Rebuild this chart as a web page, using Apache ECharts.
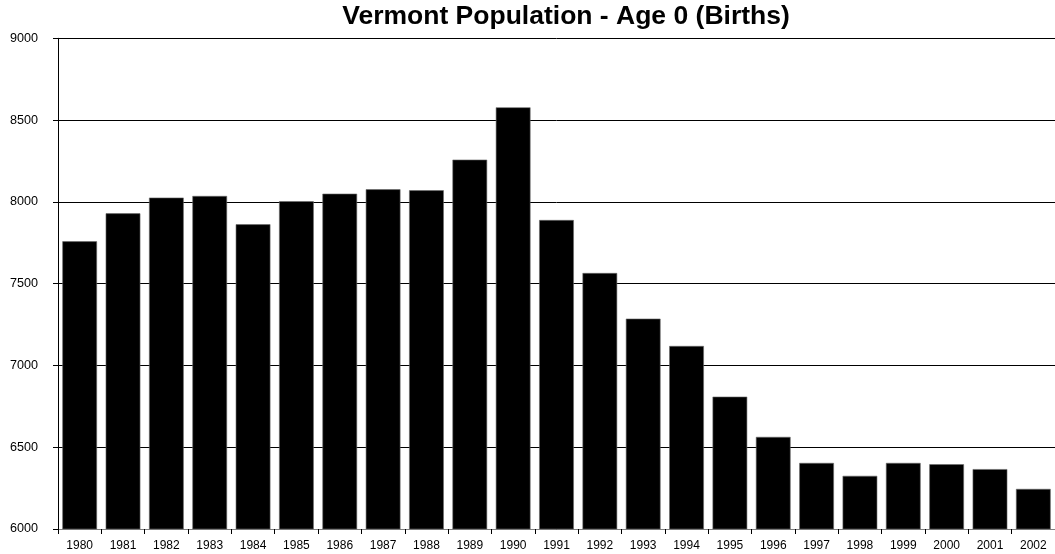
<!DOCTYPE html>
<html>
<head>
<meta charset="utf-8">
<title>Vermont Population - Age 0 (Births)</title>
<script src="https://cdn.jsdelivr.net/npm/echarts@6/dist/echarts.min.js"></script>
<style>
  html, body { margin: 0; padding: 0; background: #fff; }
  #chart { width: 1055px; height: 554px; }
</style>
</head>
<body>
<div id="chart"></div>
<script>
// Births (population at age 0) per year
const years = ['1980', '1981', '1982', '1983', '1984', '1985', '1986', '1987', '1988', '1989', '1990', '1991',
               '1992', '1993', '1994', '1995', '1996', '1997', '1998', '1999', '2000', '2001', '2002'];
const births = [7759, 7930, 8026, 8036, 7863, 8004, 8050, 8077, 8071, 8258, 8578, 7889,
                7565, 7286, 7119, 6809, 6563, 6404, 6325, 6404, 6396, 6366, 6245];
const yMin = 6000;
const yMax = 9000;
const yStep = 500;

const chart = echarts.init(document.getElementById('chart'));
chart.setOption({
  animation: false,
  backgroundColor: '#ffffff',
  title: {
    text: 'Vermont Population - Age 0 (Births)',
    left: 566,
    textAlign: 'center',
    top: 3,
    padding: 0,
    textStyle: {
      fontFamily: 'Liberation Sans, Arial, sans-serif',
      fontWeight: 'bold',
      fontSize: 26.5,
      color: '#000'
    }
  },
  grid: {
    left: 58,
    right: 0,
    top: 38.3,
    bottom: 25,
    containLabel: false
  },
  xAxis: {
    type: 'category',
    data: years,
    boundaryGap: true,
    axisLine: { show: true, lineStyle: { color: '#808080', width: 1 } },
    axisTick: { show: true, inside: false, length: 5, alignWithLabel: false, lineStyle: { color: '#000' } },
    axisLabel: {
      interval: 0,
      margin: 11,
      fontFamily: 'Liberation Sans, Arial, sans-serif',
      fontSize: 12,
      color: '#000'
    },
    splitLine: { show: false }
  },
  yAxis: {
    type: 'value',
    min: yMin,
    max: yMax,
    interval: yStep,
    axisLine: { show: true, lineStyle: { color: '#000', width: 1 } },
    axisTick: { show: true, inside: false, length: 5, lineStyle: { color: '#000' } },
    axisLabel: {
      margin: 20,
      formatter: (v) => String(v),
      fontFamily: 'Liberation Sans, Arial, sans-serif',
      fontSize: 12.6,
      color: '#000'
    },
    splitLine: { show: true, lineStyle: { color: '#000', width: 1 } }
  },
  series: [{
    type: 'bar',
    data: births,
    barCategoryGap: '20%',
    itemStyle: { color: '#000', borderColor: '#6a6a6a', borderWidth: 0.6 }
  }]
});
</script>
</body>
</html>
